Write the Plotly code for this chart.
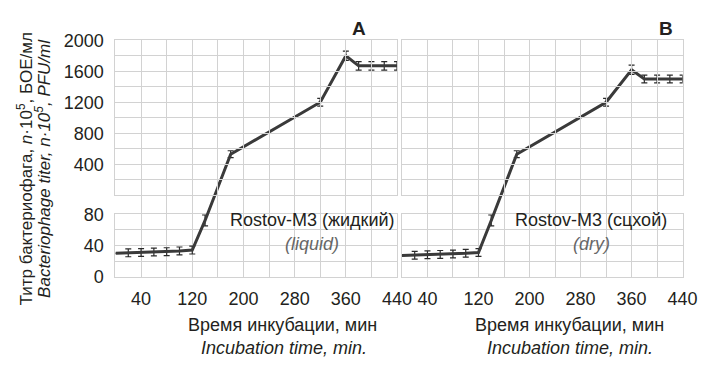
import plotly.graph_objects as go

# ---- data ----
time_min = [0, 20, 40, 60, 80, 100, 120, 140, 180, 320, 360, 380, 400, 420, 440]
titer_liquid = [30, 30.5, 31, 31.5, 32, 33, 34, 72, 530, 1200, 1800, 1670, 1670, 1670, 1670]
err_liquid = [0, 5, 5, 5, 5, 5, 5, 7, 45, 50, 60, 55, 55, 55, 55]
titer_dry = [27, 27.5, 28, 28.5, 29, 30, 31, 72, 530, 1200, 1620, 1500, 1500, 1500, 1500]
err_dry = [0, 5, 5, 5, 5, 5, 5, 7, 45, 50, 60, 50, 50, 50, 50]

x_tickvals = [40, 120, 200, 280, 360, 440]
y_low_ticks = [0, 40, 80]
y_high_ticks = [400, 800, 1200, 1600, 2000]
LOW_MAX = 80
HIGH_MAX = 2000

W, H = 703, 367
FONT = "Liberation Sans, Arial, Helvetica, sans-serif"
GRID = "#d2d2d2"
TXT = "#231f20"
LINE = "#3a3a3a"


def px_x(p):
    return p / W


def px_y(p):
    return 1 - p / H


dom_a = [px_x(118), px_x(405.7)]
dom_b = [px_x(410.7), px_x(697.5)]
low_dom = [px_y(282), px_y(216)]
high_dom = [px_y(196), px_y(32)]
full_dom = [low_dom[0], high_dom[1]]
full_h = full_dom[1] - full_dom[0]


def broken_scale(v):
    """Map a titer value onto the combined (broken) axis, 0..1 over full_dom."""
    if v <= LOW_MAX:
        frac = low_dom[0] + v / LOW_MAX * (low_dom[1] - low_dom[0])
    else:
        frac = high_dom[0] + v / HIGH_MAX * (high_dom[1] - high_dom[0])
    return (frac - full_dom[0]) / full_h


def broken_err(v, e):
    if v <= LOW_MAX:
        return e / LOW_MAX * (low_dom[1] - low_dom[0]) / full_h
    return e / HIGH_MAX * (high_dom[1] - high_dom[0]) / full_h


fig = go.Figure()

# dummy traces so the grid subplots exist
for xa, ya in [("x", "y"), ("x2", "y2"), ("x3", "y3"), ("x4", "y4")]:
    fig.add_trace(go.Scatter(x=[None], y=[None], xaxis=xa, yaxis=ya,
                             showlegend=False, hoverinfo="skip"))

for vals, errs, xa, ya in [(titer_liquid, err_liquid, "x", "y5"),
                           (titer_dry, err_dry, "x3", "y6")]:
    fig.add_trace(go.Scatter(
        x=time_min,
        y=[broken_scale(v) for v in vals],
        mode="lines",
        line=dict(color=LINE, width=3),
        error_y=dict(type="data", array=[broken_err(v, e) for v, e in zip(vals, errs)],
                     visible=True, color="#2a2a2a", thickness=1.2, width=3),
        xaxis=xa, yaxis=ya, showlegend=False, hoverinfo="skip",
    ))

tickfont = dict(family=FONT, size=18, color=TXT)

xcommon = dict(range=[0, 440], tickvals=x_tickvals, showgrid=True, gridcolor=GRID,
               gridwidth=1, minor=dict(dtick=40, tick0=0, showgrid=True, gridcolor=GRID, gridwidth=1),
               zeroline=False, showline=True, mirror=True, linecolor=GRID, linewidth=1,
               ticks="", tickfont=tickfont, fixedrange=True, ticklabelstandoff=6)

ylow = dict(range=[0, LOW_MAX], tickvals=y_low_ticks, showgrid=True, gridcolor=GRID,
            minor=dict(dtick=20, tick0=0, showgrid=True, gridcolor=GRID),
            zeroline=False, showline=True, mirror=True, linecolor=GRID, linewidth=1,
            ticks="", tickfont=tickfont, domain=low_dom, ticklabelstandoff=7, fixedrange=True)
yhigh = dict(range=[0, HIGH_MAX], tickvals=y_high_ticks, showgrid=True, gridcolor=GRID,
             minor=dict(dtick=200, tick0=0, showgrid=True, gridcolor=GRID),
             zeroline=False, showline=True, mirror=True, linecolor=GRID, linewidth=1,
             ticks="", tickfont=tickfont, domain=high_dom, ticklabelstandoff=7, fixedrange=True)

fig.update_layout(
    width=W, height=H,
    margin=dict(l=0, r=0, t=0, b=0),
    paper_bgcolor="white", plot_bgcolor="rgba(0,0,0,0)",
    xaxis=dict(**xcommon, domain=dom_a, anchor="y", showticklabels=True),
    xaxis2=dict(**xcommon, domain=dom_a, anchor="y2", showticklabels=False),
    xaxis3=dict(**xcommon, domain=dom_b, anchor="y3", showticklabels=True),
    xaxis4=dict(**xcommon, domain=dom_b, anchor="y4", showticklabels=False),
    yaxis=dict(**ylow, anchor="x", showticklabels=True),
    yaxis2=dict(**yhigh, anchor="x2", showticklabels=True),
    yaxis3=dict(**ylow, anchor="x3", showticklabels=False),
    yaxis4=dict(**yhigh, anchor="x4", showticklabels=False),
    yaxis5=dict(range=[0, 1], domain=full_dom, anchor="x", visible=False, fixedrange=True),
    yaxis6=dict(range=[0, 1], domain=full_dom, anchor="x3", visible=False, fixedrange=True),
)

ann = []


def add_text(text, cx, cy, size=18, color=TXT, angle=0):
    ann.append(dict(text=text, x=px_x(cx), y=px_y(cy), xref="paper", yref="paper",
                    xanchor="center", yanchor="middle", showarrow=False, textangle=angle,
                    font=dict(family=FONT, size=size, color=color)))


add_text("<b>A</b>", 367, 20, size=19)
add_text("<b>B</b>", 681, 20, size=19)
add_text("Rostov-M3 (жидкий)", 319, 222)
add_text("<i>(liquid)</i>", 319, 248, color="#666666")
add_text("Rostov-M3 (сцхой)", 604, 222)
add_text("<i>(dry)</i>", 604, 248, color="#666666")
add_text("Время инкубации, мин", 289, 333)
add_text("<i>Incubation time, min.</i>", 290, 357)
add_text("Время инкубации, мин", 582, 333)
add_text("<i>Incubation time, min.</i>", 582, 357)
add_text("Титр бактериофага, <i>n</i>·10<sup>5</sup>, БОЕ/мл", 25, 168, size=17, angle=-90)
add_text("<i>Bacteriophage titer, n·10<sup>5</sup>, PFU/ml</i>", 44, 168, size=17, angle=-90)

fig.update_layout(annotations=ann)

fig.write_html("out.html")
